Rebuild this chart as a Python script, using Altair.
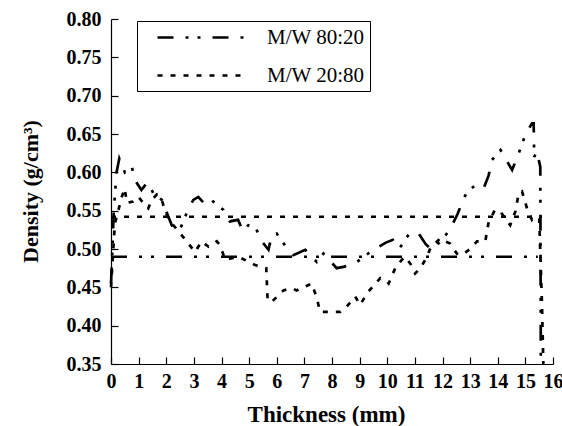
import altair as alt
import pandas as pd

SERIES = ["M/W 80:20", "M/W 20:80"]

# M/W 80:20 density profile
x_8020 = [0.0, 0.05, 0.1, 0.2, 0.3, 0.5, 0.75, 0.9, 1.1, 1.32, 1.53, 1.84, 2.0, 2.2, 2.38,
          2.55, 2.74, 2.98, 3.16, 3.46, 3.7, 4.07, 4.3, 4.6, 4.78, 4.97, 5.22, 5.46, 5.7,
          5.82, 6.0, 6.37, 6.6, 7.03, 7.45, 7.69, 8.17, 8.45, 8.9, 9.38, 9.93, 10.2, 10.43,
          10.8, 11.12, 11.4, 11.62, 11.98, 12.28, 12.55, 12.7, 12.89, 13.19, 13.49, 13.67,
          13.79, 14.1, 14.34, 14.52, 14.76, 15.0, 15.24, 15.3, 15.32, 15.42, 15.54, 15.56]
y_8020 = [0.455, 0.500, 0.550, 0.600, 0.618, 0.600, 0.607, 0.588, 0.577, 0.587, 0.573, 0.564,
          0.549, 0.531, 0.523, 0.530, 0.547, 0.564, 0.568, 0.556, 0.562, 0.551, 0.536, 0.538,
          0.523, 0.531, 0.529, 0.510, 0.499, 0.518, 0.520, 0.501, 0.492, 0.499, 0.483, 0.494,
          0.475, 0.477, 0.483, 0.496, 0.508, 0.512, 0.500, 0.520, 0.521, 0.506, 0.499, 0.512,
          0.526, 0.546, 0.560, 0.575, 0.583, 0.579, 0.596, 0.616, 0.629, 0.614, 0.603, 0.625,
          0.649, 0.664, 0.664, 0.620, 0.627, 0.607, 0.350]

# M/W 20:80 density profile
x_2080 = [0.0, 0.05, 0.14, 0.27, 0.39, 0.5, 0.57, 0.8, 0.99, 1.17, 1.35, 1.47, 1.66, 1.84,
          1.96, 2.14, 2.4, 2.74, 3.04, 3.28, 3.53, 3.83, 3.95, 4.13, 4.61, 5.22, 5.4, 5.62,
          5.67, 5.82, 6.24, 6.54, 6.72, 6.9, 7.27, 7.45, 7.57, 7.93, 8.3, 8.54, 8.84, 9.02,
          9.26, 9.75, 9.93, 10.05, 10.29, 10.53, 10.65, 10.85, 11.01, 11.2, 11.44, 11.56,
          11.92, 12.1, 12.28, 12.52, 12.7, 13.0, 13.25, 13.55, 13.67, 13.9, 14.09, 14.45,
          14.64, 14.76, 14.88, 15.06, 15.24, 15.36, 15.5, 15.6, 15.65]
y_2080 = [0.450, 0.480, 0.533, 0.551, 0.568, 0.579, 0.560, 0.562, 0.568, 0.560, 0.553, 0.564,
          0.571, 0.564, 0.549, 0.536, 0.525, 0.510, 0.496, 0.510, 0.503, 0.510, 0.505, 0.486,
          0.490, 0.479, 0.477, 0.475, 0.433, 0.431, 0.446, 0.449, 0.446, 0.449, 0.455, 0.436,
          0.418, 0.418, 0.418, 0.425, 0.438, 0.427, 0.442, 0.462, 0.460, 0.455, 0.475, 0.486,
          0.490, 0.480, 0.468, 0.475, 0.490, 0.501, 0.514, 0.510, 0.507, 0.494, 0.492, 0.500,
          0.510, 0.510, 0.535, 0.551, 0.549, 0.531, 0.549, 0.573, 0.575, 0.553, 0.538, 0.542,
          0.540, 0.430, 0.350]

# horizontal average lines
mean_series = ["M/W 80:20", "M/W 80:20", "M/W 20:80", "M/W 20:80"]
mean_id = ["a", "a", "b", "b"]
mean_x = [0.0, 15.45, 0.0, 15.6]
mean_y = [0.490, 0.490, 0.542, 0.542]

x_ticks = list(range(0, 17))
y_ticks = [0.35, 0.40, 0.45, 0.50, 0.55, 0.60, 0.65, 0.70, 0.75, 0.80]

df = pd.DataFrame({
    "x": x_8020 + x_2080,
    "y": y_8020 + y_2080,
    "series": [SERIES[0]] * len(x_8020) + [SERIES[1]] * len(x_2080),
})
mdf = pd.DataFrame({"x": mean_x, "y": mean_y, "series": mean_series, "id": mean_id})

FONT = "Liberation Serif"
dash_scale = alt.Scale(domain=SERIES, range=[[16, 12, 3, 9, 3, 12], [5, 8]])
x_scale = alt.Scale(domain=[0, 16], nice=False, zero=False)
y_scale = alt.Scale(domain=[0.35, 0.80], nice=False, zero=False)

lines = alt.Chart(df).mark_line(color="black", strokeWidth=2.7).encode(
    x=alt.X("x:Q", scale=x_scale, axis=alt.Axis(
        values=x_ticks, format="d", title="Thickness (mm)", tickSize=0, labelPadding=7,
        domainColor="black", domainWidth=1.2, grid=False, labelOverlap=False, labelFlush=False,
        labelFont=FONT, labelFontSize=20, labelFontWeight="bold", labelColor="black",
        titleFont=FONT, titleFontSize=23, titleFontWeight="bold", titleColor="black",
        titleX=215, titleY=57, titleBaseline="alphabetic", titleAlign="center")),
    y=alt.Y("y:Q", scale=y_scale, axis=alt.Axis(
        values=y_ticks, format=".2f", title="Density (g/cm³)", tickSize=0, labelPadding=10,
        domainColor="black", domainWidth=1.2, grid=False, labelOverlap=False, labelFlush=False,
        labelFont=FONT, labelFontSize=20, labelFontWeight="bold", labelColor="black",
        titleFont=FONT, titleFontSize=22, titleFontWeight="bold", titleColor="black",
        titleX=-81, titleY=172, titleBaseline="middle", titleAlign="center", titleAngle=270)),
    strokeDash=alt.StrokeDash("series:N", scale=dash_scale, legend=alt.Legend(
        title=None, orient="none", legendX=26, legendY=2,
        symbolType="M-4.5,0H4.5", symbolSize=400, symbolStrokeWidth=2.7,
        symbolStrokeColor="black", symbolOffset=49, labelOffset=53,
        labelFont=FONT, labelFontSize=21, labelColor="black",
        padding=5, rowPadding=16, strokeColor="black", fillColor="white")),
)

means = alt.Chart(mdf).mark_line(color="black", strokeWidth=2.5).encode(
    x=alt.X("x:Q", scale=x_scale, axis=alt.Axis(
        orient="bottom", offset=-7, tickSize=7, labels=False, domain=False, title=None,
        grid=False, values=x_ticks, tickColor="black", tickWidth=1.2)),
    y=alt.Y("y:Q", scale=y_scale, axis=alt.Axis(
        orient="left", offset=-7, tickSize=7, labels=False, domain=False, title=None,
        grid=False, values=y_ticks, tickColor="black", tickWidth=1.2)),
    strokeDash=alt.StrokeDash("series:N", scale=dash_scale),
    detail="id:N",
)

chart = alt.layer(lines, means).resolve_axis(
    x="independent", y="independent"
).properties(
    width=442, height=345, autosize="none",
    padding={"left": 111, "top": 19, "right": 9, "bottom": 62},
    background="white",
).configure_view(stroke=None)

chart.save("out.html", embed_options={"renderer": "svg", "actions": False})
